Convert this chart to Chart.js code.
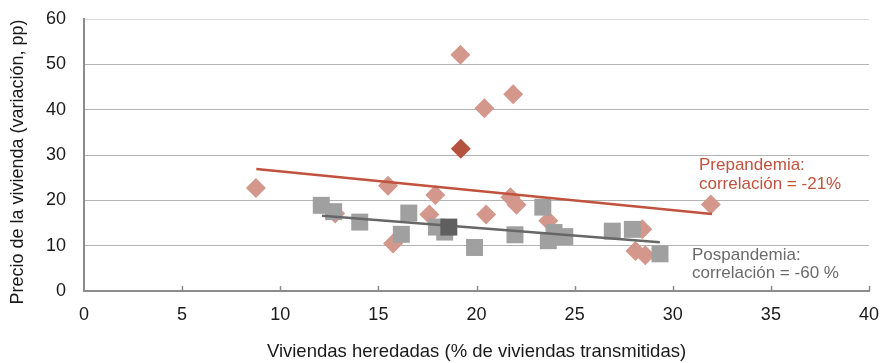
<!DOCTYPE html>
<html>
<head>
<meta charset="utf-8">
<script src="https://cdn.jsdelivr.net/npm/chart.js@4.4.1/dist/chart.umd.min.js"></script>
<style>
html,body{margin:0;padding:0;background:#fff;}
#wrap{width:882px;height:363px;position:relative;}
</style>
</head>
<body>
<div id="wrap"><canvas id="c" width="882" height="363"></canvas></div>
<script>
// Prepandemia points (light diamonds)
const preX = [8.76, 12.8, 15.49, 15.75, 17.6, 17.9, 19.18, 20.4, 20.49, 21.73, 22.04, 21.87, 23.66, 28.1, 28.45, 28.6, 31.94];
const preY = [22.7, 17.1, 23.2, 10.5, 16.9, 21.2, 52.1, 40.3, 16.9, 20.7, 19.0, 43.4, 15.5, 8.8, 13.6, 7.9, 19.1];
// Highlighted prepandemia point (dark diamond)
const preHiX = [19.2];
const preHiY = [31.4];
// Pospandemia points (grey squares)
const postX = [12.09, 12.72, 14.05, 16.17, 16.55, 17.96, 18.38, 19.9, 21.96, 23.38, 23.66, 23.95, 24.5, 26.92, 27.94, 29.35];
const postY = [18.9, 17.5, 15.2, 12.5, 17.2, 14.1, 13.0, 9.6, 12.4, 18.5, 11.1, 12.9, 12.0, 13.2, 13.6, 8.2];
// Highlighted pospandemia point (dark square)
const postHiX = [18.59];
const postHiY = [14.1];
// Trend lines (endpoints)
const preTrendX = [8.78, 32.0];
const preTrendY = [26.9, 17.0];
const postTrendX = [12.13, 29.34];
const postTrendY = [16.6, 10.75];
// Axis ticks
const xTicks = [0, 5, 10, 15, 20, 25, 30, 35, 40];
const yTicks = [0, 10, 20, 30, 40, 50, 60];
// Labels
const xTitle = 'Viviendas heredadas (% de viviendas transmitidas)';
const yTitle = 'Precio de la vivienda (variación, pp)';
const preLabel = ['Prepandemia:', 'correlación = -21%'];
const postLabel = ['Pospandemia:', 'correlación = -60 %'];

const pts = (xs, ys) => xs.map((x, i) => ({x: x, y: ys[i]}));
const FONT = '"Liberation Sans", Arial, Helvetica, sans-serif';

const annot = {
  id: 'annot',
  afterDatasetsDraw(chart) {
    const {ctx, scales: {x}} = chart;
    ctx.save();
    // inward x tick marks
    ctx.strokeStyle = '#8c8c8c';
    ctx.lineWidth = 1.5;
    const yb = chart.chartArea.bottom;
    xTicks.forEach(v => {
      if (v === 0) return;
      const px = Math.round(x.getPixelForValue(v)) + 0.5;
      ctx.beginPath(); ctx.moveTo(px, yb); ctx.lineTo(px, yb - 5); ctx.stroke();
    });
    ctx.font = '17px ' + FONT;
    ctx.textBaseline = 'alphabetic';
    ctx.textAlign = 'left';
    ctx.fillStyle = '#c0523e';
    ctx.fillText(preLabel[0], 699, 170);
    ctx.fillText(preLabel[1], 699, 189);
    ctx.fillStyle = '#6b6b6b';
    ctx.fillText(postLabel[0], 692, 260);
    ctx.fillText(postLabel[1], 692, 278);
    // y axis title
    ctx.translate(18, 162);
    ctx.rotate(-Math.PI / 2);
    ctx.font = '18px ' + FONT;
    ctx.fillStyle = '#1a1a1a';
    ctx.textAlign = 'center';
    ctx.textBaseline = 'middle';
    ctx.fillText(yTitle, 0, 0);
    ctx.restore();
  }
};

new Chart(document.getElementById('c'), {
  type: 'scatter',
  data: {
    datasets: [
      {data: pts(postHiX, postHiY), pointStyle: 'rect', pointRadius: 12, pointHoverRadius: 12, backgroundColor: '#5f5f5f', borderWidth: 0, order: 0},
      {data: pts(preHiX, preHiY), pointStyle: 'rectRot', pointRadius: 10, pointHoverRadius: 10, backgroundColor: '#b5523e', borderWidth: 0, order: 1},
      {data: pts(postTrendX, postTrendY), showLine: true, pointRadius: 0, borderColor: '#676767', borderWidth: 2.5, order: 2},
      {data: pts(preTrendX, preTrendY), showLine: true, pointRadius: 0, borderColor: '#c0523e', borderWidth: 2.5, order: 3},
      {data: pts(postX, postY), pointStyle: 'rect', pointRadius: 12, pointHoverRadius: 12, backgroundColor: '#a0a0a0', borderWidth: 0, order: 4},
      {data: pts(preX, preY), pointStyle: 'rectRot', pointRadius: 10, pointHoverRadius: 10, backgroundColor: '#d4978b', borderWidth: 0, order: 5}
    ]
  },
  options: {
    responsive: false,
    animation: false,
    events: [],
    layout: {padding: {left: 0, right: 13, top: 19, bottom: 0}},
    plugins: {legend: {display: false}, tooltip: {enabled: false}},
    scales: {
      x: {
        type: 'linear', min: 0, max: 40,
        afterBuildTicks: s => { s.ticks = xTicks.map(v => ({value: v})); },
        afterFit: s => { s.height = 72; s.paddingLeft = 0; s.paddingRight = 0; },
        grid: {display: false},
        border: {display: true, color: '#8c8c8c', width: 2},
        ticks: {color: '#1a1a1a', font: {family: FONT, size: 18}, padding: 5, maxRotation: 0},
        title: {display: true, text: xTitle, color: '#1a1a1a', font: {family: FONT, size: 18.5}, padding: {top: 0, bottom: 0}}
      },
      y: {
        type: 'linear', min: 0, max: 60,
        afterBuildTicks: s => { s.ticks = yTicks.map(v => ({value: v})); },
        afterFit: s => { s.width = 84; s.paddingTop = 0; s.paddingBottom = 0; },
        grid: {display: true, drawTicks: false, color: c => (c.tick && c.tick.value === 60 ? '#d9d9d9' : '#b3b3b3'), lineWidth: 1},
        border: {display: true, color: '#8c8c8c', width: 2},
        ticks: {color: '#1a1a1a', font: {family: FONT, size: 18}, padding: 18},
        title: {display: false}
      }
    }
  },
  plugins: [annot]
});
</script>
</body>
</html>
